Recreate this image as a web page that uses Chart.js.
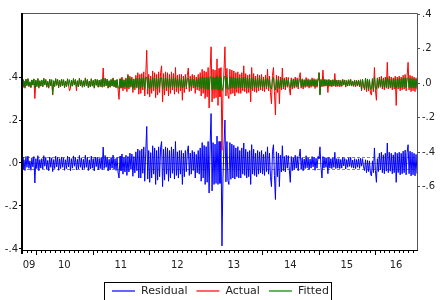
<!DOCTYPE html>
<html><head><meta charset="utf-8">
<script src="https://cdn.jsdelivr.net/npm/chart.js@4.4.1/dist/chart.umd.min.js"></script>
<style>html,body{margin:0;padding:0;background:#fff}#wrap{width:440px;height:300px}</style>
</head><body><div id="wrap"><canvas id="c" width="440" height="300"></canvas></div>
<script>
// ---- data ----
const startYear = 2009.752, endYear = 2016.743;
const yearLabels = ['09','10','11','12','13','14','15','16'];
const leftTicks = [-0.4,-0.2,0,0.2,0.4];
const rightTicks = [-0.6,-0.4,-0.2,0,0.2,0.4];
const residualStd = 0.03;
const seriesNames = ['Residual','Actual','Fitted'];
const seriesColors = ['#0000ff','#ff0000','#008000'];

const actual = [
.02,-.025,.01,-.03,.022,-.015,.025,-.02,.005,-.028,.018,-.012,.024,-.09,.015,-.02,.026,-.03,.012,-.018,
.015,-.022,.028,-.01,.02,-.025,.008,-.03,.022,-.016,.018,-.07,.012,-.02,.025,-.012,.02,-.028,.014,-.02,
.022,-.015,.018,-.028,.01,-.02,.025,-.012,-.045,-.03,.015,-.018,.026,-.01,.02,-.045,.012,-.022,.028,-.015,
.018,-.025,.012,-.02,.03,-.015,.02,-.028,.01,-.022,.025,-.018,.015,-.03,.022,-.012,.02,-.025,.016,-.02,
.02,-.025,.087,-.02,.028,-.015,.022,-.03,.012,-.025,.02,-.018,.03,-.022,.015,-.028,.02,-.035,-.095,.025,
-.03,.035,-.045,.02,-.035,.03,-.05,.05,-.035,.04,-.025,.035,-.055,.025,-.04,.045,-.03,.06,-.065,.05,
-.06,.055,-.04,.065,-.075,.045,.19,-.065,.05,-.08,.04,-.06,.07,-.045,.06,-.085,.05,-.07,.065,-.055,
.06,.1,-.11,.055,-.07,.065,-.045,.06,-.075,.05,-.06,.065,-.04,.055,-.065,.09,-.05,.045,-.06,.05,
-.045,.05,-.1,.04,-.055,.05,-.035,.045,.087,-.05,.04,-.045,.05,-.03,.045,-.06,.035,-.04,.05,-.045,
.06,-.075,.08,-.06,.07,-.09,.065,-.08,.09,-.145,.07,.21,-.11,.08,-.09,.075,-.085,.14,-.13,.085,
-.08,.09,-.39,-.06,.07,.21,-.075,.085,-.07,-.09,.08,-.065,.075,-.06,.07,-.075,.06,-.055,.065,-.06,
.05,-.06,.06,-.045,.1,-.05,.055,-.06,.045,-.055,.05,-.11,.09,-.045,.055,-.05,.04,-.055,.05,-.045,
.045,-.04,.05,-.045,.035,-.05,.045,-.035,.08,-.045,.04,-.055,-.12,.045,.09,-.05,-.185,.045,-.055,.04,
-.12,.035,-.04,.087,-.035,.03,-.04,.035,-.025,.032,-.03,-.07,.03,-.035,.025,-.03,.035,-.025,.03,-.035,
.03,.06,-.03,.025,-.035,.02,-.026,.032,-.022,.025,-.03,.02,-.025,.03,-.02,.026,-.032,.022,-.025,.028,
.06,-.065,.022,-.022,.075,-.02,.022,-.018,.02,-.055,.022,-.02,.018,-.022,.02,-.018,.055,-.022,.018,-.02,
.018,-.022,.015,-.02,.022,-.012,.018,-.024,.015,-.018,.02,-.015,.022,-.018,.012,-.02,.018,-.022,.015,-.018,
.018,-.022,.02,-.045,.022,-.018,-.04,.028,-.05,.022,-.045,.018,-.06,-.07,.022,-.05,.09,-.04,-.1,.03,
-.03,.035,-.025,.04,-.035,.03,-.04,.035,-.03,.12,-.035,.04,-.03,.035,-.04,.03,-.035,.04,-.13,.035,
-.035,.04,-.045,.035,-.04,.045,-.035,.05,-.045,.04,.12,-.04,.045,-.05,.04,-.045,.035,-.05,.03,-.04
];
const fitted = [
.02,-.018,.012,-.024,.022,-.014,.025,-.02,.008,-.022,.018,-.012,.024,-.03,.016,-.02,.025,-.024,.014,-.018,
.018,-.02,.025,-.012,.02,-.022,.01,-.025,.022,-.016,.02,-.065,.014,-.02,.025,-.014,.02,-.025,.016,-.02,
.022,-.016,.02,-.025,.012,-.02,.024,-.014,.02,-.026,.016,-.018,.025,-.012,.02,-.024,.014,-.022,.026,-.016,
.018,-.022,.014,-.02,.026,-.016,.02,-.024,.012,-.022,.024,-.018,.016,-.026,.022,-.014,.02,-.023,.017,-.02,
.02,-.022,.03,-.02,.025,-.015,.022,-.026,.014,-.023,.02,-.017,.026,-.021,.016,-.025,.02,-.028,-.03,.024,
-.02,.025,-.028,.016,-.024,.022,-.03,.045,-.025,.028,-.02,.024,-.032,.02,-.026,.03,-.022,.025,-.034,.028,
-.026,.028,-.022,.03,-.032,.024,.035,-.03,.026,-.034,.022,-.028,.032,-.024,.03,-.036,.026,-.03,.033,-.026,
.03,.032,-.036,.028,-.03,.033,-.024,.03,-.033,.026,-.028,.032,-.022,.028,-.03,.033,-.026,.024,-.03,.028,
-.024,.026,-.03,.022,-.026,.028,-.02,.024,.03,-.026,.022,-.024,.026,-.018,.024,-.028,.02,-.022,.026,-.024,
.03,-.033,.035,-.03,.033,-.036,.032,-.034,.036,-.04,.033,.04,-.038,.035,-.037,.034,-.036,.04,-.04,.036,
-.035,.036,-.045,-.028,.032,.04,-.033,.035,-.032,-.036,.035,-.03,.033,-.028,.032,-.033,.028,-.026,.03,-.028,
.028,-.03,.032,-.026,.035,-.028,.03,-.032,.026,-.03,.028,-.036,.032,-.026,.03,-.028,.024,-.03,.028,-.026,
.026,-.024,.028,-.026,.022,-.028,.026,-.022,.03,-.026,.024,-.03,-.035,.026,.032,-.028,-.04,.026,-.03,.024,
-.032,.022,-.024,.03,-.022,.02,-.024,.022,-.018,.021,-.02,-.028,.02,-.022,.018,-.02,.022,-.018,.02,-.022,
.02,.026,-.02,.018,-.022,.016,-.019,.021,-.017,.018,-.02,.016,-.018,.02,-.016,.019,-.021,.017,-.018,.02,
.06,-.07,.018,-.018,.022,-.017,.018,-.016,.017,-.02,.018,-.017,.016,-.018,.017,-.016,.02,-.018,.016,-.017,
.016,-.018,.014,-.017,.018,-.012,.016,-.019,.014,-.016,.017,-.014,.018,-.016,.012,-.017,.016,-.018,.014,-.016,
.016,-.018,.017,-.04,.02,-.018,-.032,.028,-.035,.024,-.032,.02,-.036,-.034,.026,-.033,.036,-.03,-.036,.028,
-.022,.024,-.02,.026,-.024,.022,-.026,.024,-.022,.032,-.024,.026,-.022,.024,-.026,.022,-.024,.026,-.032,.024,
-.024,.026,-.028,.024,-.026,.028,-.024,.03,-.028,.026,.032,-.026,.028,-.03,.026,-.028,.024,-.03,.022,-.026
];
const residual = [
.028,-.03,.015,-.035,.03,-.02,.032,-.025,.01,-.034,.024,-.018,.03,-.093,.02,-.026,.034,-.036,.016,-.024,
.02,-.028,.034,-.015,.026,-.03,.012,-.036,.028,-.02,.024,-.04,.016,-.026,.032,-.018,.026,-.034,.02,-.026,
.028,-.02,.024,-.034,.015,-.026,.032,-.018,.026,-.036,.02,-.024,.033,-.015,.026,-.032,.017,-.028,.035,-.02,
.024,-.032,.017,-.026,.036,-.02,.026,-.035,.015,-.028,.032,-.024,.02,-.037,.028,-.017,.026,-.032,.021,-.026,
.026,-.032,.074,-.026,.035,-.02,.028,-.037,.017,-.032,.026,-.024,.037,-.028,.02,-.035,.026,-.042,-.07,.032,
-.036,.042,-.052,.026,-.042,.036,-.058,.03,-.042,.046,-.03,.042,-.062,.03,-.046,.052,-.036,.065,-.07,.058,
-.07,.065,-.048,.075,-.085,.052,.17,-.075,.058,-.09,.048,-.07,.08,-.052,.07,-.1,.058,-.08,.075,-.064,
.07,.1,-.11,.064,-.08,.075,-.052,.07,-.085,.058,-.07,.075,-.048,.064,-.075,.1,-.058,.052,-.07,.058,
-.052,.058,-.1,.046,-.064,.058,-.04,.052,.08,-.058,.046,-.052,.058,-.035,.052,-.07,.04,-.046,.058,-.052,
.07,-.085,.095,-.07,.082,-.1,.076,-.09,.1,-.14,.082,.23,-.13,.095,-.1,.088,-.095,.125,-.1,.1,
-.095,.1,-.386,-.07,.082,.2,-.088,.1,-.082,-.1,.095,-.076,.088,-.07,.082,-.075,.07,-.064,.076,-.07,
.058,-.07,.07,-.052,.093,-.058,.064,-.07,.052,-.064,.058,-.1,.085,-.052,.064,-.058,.046,-.064,.058,-.052,
.052,-.046,.058,-.052,.04,-.058,.052,-.04,.075,-.052,.046,-.064,-.11,.052,.085,-.058,-.17,.052,-.064,.046,
-.11,.036,-.042,.08,-.036,.03,-.042,.036,-.024,.034,-.03,-.09,.03,-.036,.024,-.03,.036,-.024,.03,-.036,
.03,.065,-.03,.024,-.036,.018,-.026,.034,-.022,.024,-.03,.018,-.024,.03,-.018,.026,-.034,.022,-.024,.03,
.02,.075,-.02,-.07,.03,-.024,.026,-.02,.024,-.05,.026,-.024,.02,-.026,.024,-.02,.05,-.026,.02,-.024,
.02,-.026,.016,-.024,.026,-.014,.021,-.028,.016,-.02,.024,-.016,.026,-.021,.014,-.024,.02,-.026,.016,-.02,
.02,-.025,.022,-.015,.02,-.018,-.035,.015,-.045,.012,-.04,.01,-.05,-.06,.01,-.045,.07,-.035,-.09,.02,
-.04,.045,-.032,.05,-.045,.038,-.05,.045,-.038,.093,-.045,.05,-.038,.045,-.05,.038,-.045,.05,-.09,.045,
-.045,.05,-.055,.045,-.05,.055,-.045,.06,-.055,.05,.085,-.05,.055,-.06,.05,-.055,.045,-.06,.04,-.05
];

// ---- build ----
const n = actual.length;
const step = (endYear - startYear) / (n - 1);
const dates = actual.map((_, i) => startYear + i * step);
const toPts = arr => arr.map((v, i) => ({x: dates[i], y: v}));

const firstYear = 2009;
const yearCenters = yearLabels.map((_, k) => {
  const a = Math.max(firstYear + k, startYear), b = Math.min(firstYear + k + 1, endYear);
  return (a + b) / 2;
});
const fmt = v => v === 0 ? '.0' : v.toFixed(1).replace('0.', '.');

Chart.defaults.font.family = '"DejaVu Sans", sans-serif';
Chart.defaults.font.size = 10;
Chart.defaults.color = '#222';

const refLines = {
  id: 'refLines',
  beforeDatasetsDraw(chart) {
    const ctx = chart.ctx, a = chart.chartArea, y = chart.scales.yL;
    ctx.save();
    ctx.lineWidth = 1;
    ctx.strokeStyle = '#888';
    ctx.setLineDash([3, 2]);
    [residualStd, -residualStd].forEach(v => {
      const py = Math.round(y.getPixelForValue(v)) + 0.5;
      ctx.beginPath(); ctx.moveTo(a.left, py); ctx.lineTo(a.right, py); ctx.stroke();
    });
    ctx.setLineDash([]);
    const p0 = Math.round(y.getPixelForValue(0)) + 0.5;
    ctx.strokeStyle = '#999';
    ctx.beginPath(); ctx.moveTo(a.left, p0); ctx.lineTo(a.right, p0); ctx.stroke();
    ctx.restore();
  }
};

const frame = {
  id: 'frame',
  afterDraw(chart) {
    const ctx = chart.ctx, a = chart.chartArea, xs = chart.scales.x;
    ctx.save();
    ctx.lineWidth = 1;
    ctx.strokeStyle = '#555';
    ctx.beginPath();
    ctx.moveTo(a.left, a.top + 0.5); ctx.lineTo(a.right + 0.5, a.top + 0.5); ctx.lineTo(a.right + 0.5, a.bottom);
    ctx.stroke();
    ctx.strokeStyle = '#000';
    ctx.beginPath(); ctx.moveTo(a.left, a.bottom + 0.5); ctx.lineTo(a.right + 1, a.bottom + 0.5); ctx.stroke();
    ctx.lineWidth = 2;
    ctx.beginPath(); ctx.moveTo(a.left, a.top); ctx.lineTo(a.left, a.bottom + 4); ctx.stroke();
    ctx.lineWidth = 1;
    for (let yr = 2009; yr <= 2017; yr++) {
      for (let m = 0; m < 12; m++) {
        const v = yr + m / 12;
        if (v < startYear || v > endYear) continue;
        const px = Math.round(xs.getPixelForValue(v)) + 0.5;
        ctx.beginPath(); ctx.moveTo(px, a.bottom + 1); ctx.lineTo(px, a.bottom + (m === 0 ? 5 : 3)); ctx.stroke();
      }
    }
    // boxed legend
    ctx.strokeStyle = '#000';
    ctx.strokeRect(104.5, 282.5, 227, 30);
    ctx.font = '11px "DejaVu Sans", sans-serif';
    ctx.textBaseline = 'middle';
    let x = 112;
    seriesNames.forEach((name, k) => {
      ctx.globalAlpha = 0.6;
      ctx.fillStyle = seriesColors[k];
      ctx.fillRect(x, 290, 23, 2);
      ctx.globalAlpha = 1;
      x += 29;
      ctx.fillStyle = '#222';
      ctx.fillText(name, x, 291);
      x += ctx.measureText(name).width + 9;
    });
    ctx.restore();
  }
};

new Chart(document.getElementById('c'), {
  type: 'line',
  data: {
    datasets: [
      {label: seriesNames[0], data: toPts(residual), yAxisID: 'yL', borderColor: seriesColors[0], order: 3},
      {label: seriesNames[1], data: toPts(actual), yAxisID: 'yR', borderColor: seriesColors[1], order: 2},
      {label: seriesNames[2], data: toPts(fitted), yAxisID: 'yR', borderColor: seriesColors[2], order: 1}
    ]
  },
  options: {
    responsive: false,
    animation: false,
    devicePixelRatio: 1,
    layout: {padding: {top: 13, bottom: 18, left: 0, right: 0}},
    elements: {point: {radius: 0}, line: {borderWidth: 1, tension: 0}},
    plugins: {legend: {display: false}, tooltip: {enabled: false}},
    scales: {
      x: {
        type: 'linear', min: startYear, max: endYear,
        grid: {display: false, drawTicks: false}, border: {display: false},
        afterBuildTicks: s => { s.ticks = yearCenters.map(v => ({value: v})); },
        ticks: {autoSkip: false, maxRotation: 0, padding: 9, callback: (v, i) => yearLabels[i]},
        afterFit: s => { s.height = 32; }
      },
      yL: {
        type: 'linear', position: 'left', min: -0.405, max: 0.698,
        afterBuildTicks: s => { s.ticks = leftTicks.map(v => ({value: v})); },
        grid: {drawOnChartArea: false, tickLength: 3, color: '#000'}, border: {display: false},
        ticks: {padding: 1, callback: fmt},
        afterFit: s => { s.width = 22; }
      },
      yR: {
        type: 'linear', position: 'right', min: -0.968, max: 0.406,
        afterBuildTicks: s => { s.ticks = rightTicks.map(v => ({value: v})); },
        grid: {drawOnChartArea: false, tickLength: 3, color: '#555'}, border: {display: false},
        ticks: {padding: 2, callback: fmt},
        afterFit: s => { s.width = 23; }
      }
    }
  },
  plugins: [refLines, frame]
});
</script></body></html>
